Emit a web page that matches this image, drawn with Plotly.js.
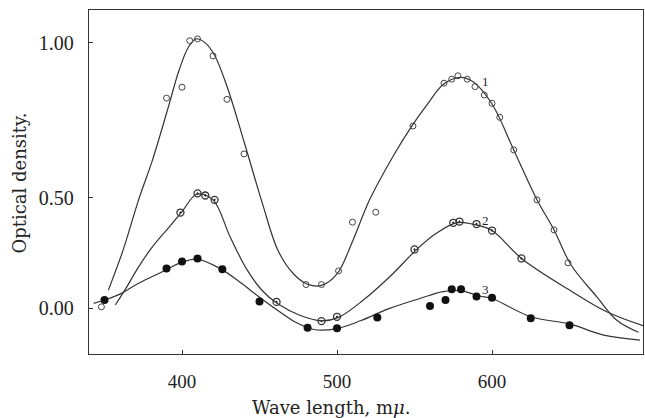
<!DOCTYPE html>
<html>
<head>
<meta charset="utf-8">
<script src="https://cdn.plot.ly/plotly-3.0.1.min.js"></script>
<style>html,body{margin:0;padding:0;background:#fff}#chart{width:645px;height:418px}</style>
</head>
<body>
<div id="chart"></div>
<script>
// Measured points (wavelength in mμ, plotted density position)
const wl1 = [348, 390, 400, 405, 410, 420, 429, 440, 480, 490, 501, 510, 525, 549, 569, 574, 578, 584, 589, 595, 600, 605, 614, 629, 640, 649];
const od1 = [0.149, 0.822, 0.857, 1.007, 1.013, 0.958, 0.818, 0.642, 0.221, 0.221, 0.265, 0.422, 0.454, 0.732, 0.870, 0.883, 0.894, 0.883, 0.859, 0.832, 0.805, 0.760, 0.655, 0.494, 0.397, 0.291];

const wl2 = [399, 410, 415, 421, 461, 490, 500, 550, 575, 579, 590, 600, 619];
const od2 = [0.453, 0.515, 0.508, 0.494, 0.165, 0.103, 0.117, 0.334, 0.420, 0.424, 0.416, 0.395, 0.305];

const wl3 = [350, 390, 400, 410, 426, 450, 481, 500, 526, 560, 570, 574, 580, 590, 600, 625, 650];
const od3 = [0.171, 0.273, 0.295, 0.305, 0.270, 0.166, 0.082, 0.080, 0.115, 0.152, 0.171, 0.206, 0.206, 0.182, 0.178, 0.112, 0.090];

// Drawn smooth curves
const cx1 = [352.5, 362, 372, 381, 391, 398, 404, 409, 415, 421, 429, 441, 452, 462, 472, 481, 490, 500, 510, 521, 536, 548, 558, 568.5, 579.5, 588, 600, 614, 629, 640, 651, 667.5, 680.5, 694.5];
const cy1 = [0.203, 0.332, 0.494, 0.623, 0.790, 0.910, 0.985, 1.013, 1.000, 0.960, 0.860, 0.665, 0.480, 0.330, 0.255, 0.222, 0.218, 0.255, 0.360, 0.494, 0.633, 0.730, 0.800, 0.866, 0.889, 0.874, 0.803, 0.655, 0.494, 0.397, 0.284, 0.182, 0.106, 0.067];

const cx2 = [357, 364, 372, 381, 391, 400, 409.5, 420, 431, 442, 452, 462, 476, 490, 501, 517, 534, 551, 564, 577, 589, 600, 619, 650, 674, 697.5];
const cy2 = [0.155, 0.210, 0.278, 0.343, 0.402, 0.456, 0.512, 0.494, 0.375, 0.268, 0.200, 0.158, 0.122, 0.104, 0.115, 0.171, 0.246, 0.332, 0.386, 0.420, 0.414, 0.395, 0.305, 0.203, 0.133, 0.088];

const cx3 = [343, 350, 360, 372, 386, 400, 409.5, 424.5, 437.5, 450, 463, 473, 485, 500, 515, 534, 553.5, 568.5, 579.5, 592, 600, 625, 650, 672, 695.5];
const cy3 = [0.160, 0.171, 0.190, 0.225, 0.259, 0.293, 0.303, 0.273, 0.228, 0.180, 0.133, 0.100, 0.076, 0.079, 0.104, 0.144, 0.176, 0.198, 0.201, 0.184, 0.176, 0.117, 0.094, 0.058, 0.042];

const curveLabels = ["1", "2", "3"];
const labelX = [596, 596, 596];
const labelY = [0.875, 0.429, 0.205];

const xTickVals = [400, 500, 600];
const xTickText = ["400", "500", "600"];
const yTickVals = [1.0, 0.5, 0.145];
const yTickText = ["1.00", "0.50", "0.00"];

const xTitle = "Wave length, m<i>μ</i>.";
const yTitle = "Optical density.";

const FONT = "Liberation Serif, DejaVu Serif, serif";
const TFONT = "DejaVu Serif, Liberation Serif, serif";
const INK = "#222";

const lineStyle = {color: "#333", width: 1.2, shape: "spline", smoothing: 1};

const traces = [
  {x: cx1, y: cy1, mode: "lines", line: lineStyle, hoverinfo: "skip"},
  {x: cx2, y: cy2, mode: "lines", line: lineStyle, hoverinfo: "skip"},
  {x: cx3, y: cy3, mode: "lines", line: lineStyle, hoverinfo: "skip"},
  {x: wl1, y: od1, mode: "markers", marker: {symbol: "circle-open", size: 6, color: "#444", line: {width: 1, color: "#444"}}},
  {x: wl2, y: od2, mode: "markers", marker: {symbol: "circle-open-dot", size: 7, color: "#333", line: {width: 1.3, color: "#333"}}},
  {x: wl3, y: od3, mode: "markers", marker: {symbol: "circle", size: 8, color: "#111"}}
];

const annotations = curveLabels.map((t, i) => ({
  x: labelX[i], y: labelY[i], xref: "x", yref: "y", text: t, showarrow: false,
  font: {family: FONT, size: 13, color: INK}
}));
annotations.push({
  x: 0.437, y: -0.156, xref: "paper", yref: "paper", text: xTitle, showarrow: false,
  xanchor: "center", yanchor: "middle", font: {family: TFONT, size: 18, color: INK}
});
annotations.push({
  x: -0.126, y: 0.496, xref: "paper", yref: "paper", text: yTitle, showarrow: false,
  textangle: -90, xanchor: "center", yanchor: "middle", font: {family: TFONT, size: 18, color: INK}
});

const layout = {
  width: 645, height: 418,
  margin: {l: 89, r: 2, t: 10, b: 64},
  paper_bgcolor: "#fff", plot_bgcolor: "#fff",
  showlegend: false,
  font: {family: FONT, color: INK},
  xaxis: {
    range: [340, 697.4], showgrid: false, zeroline: false,
    showline: true, mirror: true, linecolor: "#333", linewidth: 1.2,
    ticks: "inside", ticklen: 4, tickcolor: "#333",
    tickvals: xTickVals, ticktext: xTickText, ticklabelstandoff: 10,
    tickfont: {family: FONT, size: 19, color: INK}
  },
  yaxis: {
    range: [-0.003, 1.106], showgrid: false, zeroline: false,
    showline: true, mirror: true, linecolor: "#333", linewidth: 1.2,
    ticks: "inside", ticklen: 4, tickcolor: "#333",
    tickvals: yTickVals, ticktext: yTickText, ticklabelstandoff: 10,
    tickfont: {family: FONT, size: 20, color: INK}
  },
  annotations: annotations
};

Plotly.newPlot("chart", traces, layout, {staticPlot: true, displayModeBar: false});
</script>
</body>
</html>
